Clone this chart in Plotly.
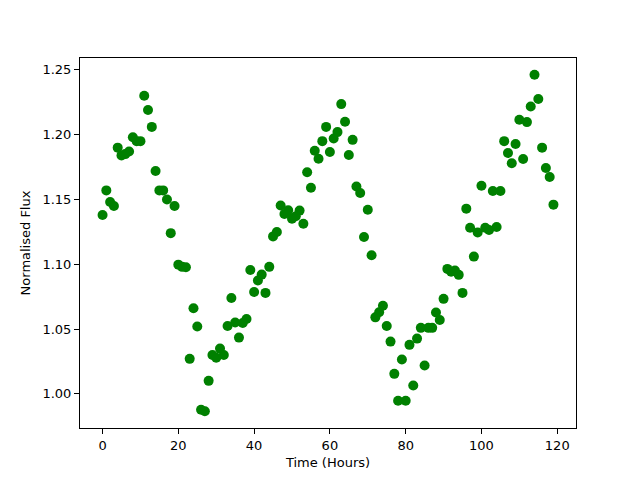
import plotly.graph_objects as go

time_hours = list(range(120))
flux = [
    1.138, 1.157, 1.148, 1.145, 1.190, 1.184, 1.185, 1.187, 1.198, 1.195,
    1.195, 1.230, 1.219, 1.206, 1.172, 1.157, 1.157, 1.150, 1.124, 1.145,
    1.0997, 1.098, 1.0977, 1.027, 1.066, 1.052, 0.9877, 0.9866, 1.010, 1.030,
    1.0278, 1.0349, 1.030, 1.0524, 1.074, 1.055, 1.0434, 1.0547, 1.0578, 1.0955,
    1.0786, 1.0875, 1.092, 1.0779, 1.098, 1.1215, 1.1249, 1.1454, 1.1388, 1.1416,
    1.1352, 1.137, 1.1414, 1.1313, 1.171, 1.159, 1.1876, 1.1814, 1.195, 1.206,
    1.1866, 1.197, 1.202, 1.2236, 1.210, 1.1843, 1.196, 1.160, 1.155, 1.121,
    1.142, 1.107, 1.059, 1.063, 1.068, 1.0524, 1.0403, 1.0154, 0.9946, 1.0265,
    0.9946, 1.0378, 1.0064, 1.0426, 1.0509, 1.0218, 1.0509, 1.0509, 1.0627, 1.057,
    1.0733, 1.0964, 1.0943, 1.0951, 1.0918, 1.0779, 1.1429, 1.1282, 1.1059, 1.1246,
    1.1606, 1.1282, 1.1264, 1.1565, 1.1288, 1.1565, 1.195, 1.1858, 1.178, 1.1928,
    1.2115, 1.1812, 1.2097, 1.2217, 1.2462, 1.2275, 1.190, 1.1743, 1.1673, 1.146,
]

x_ticks = [0, 20, 40, 60, 80, 100, 120]
y_ticks = [1.00, 1.05, 1.10, 1.15, 1.20, 1.25]

fig = go.Figure(go.Scatter(
    x=time_hours, y=flux, mode="markers",
    marker=dict(color="#008000", size=10, line=dict(width=0)),
))

axis_common = dict(
    showline=True, mirror=True, linecolor="black", linewidth=1,
    ticks="outside", ticklen=5, tickcolor="black", tickwidth=1,
    showgrid=False, zeroline=False,
    tickfont=dict(family="DejaVu Sans", size=13, color="black"),
)

xpad = (max(time_hours) - min(time_hours)) * 0.05
ypad = (max(flux) - min(flux)) * 0.05

fig.update_xaxes(
    **axis_common,
    range=[min(time_hours) - xpad, max(time_hours) + xpad],
    tickvals=x_ticks, ticktext=[str(v) for v in x_ticks],
    title=dict(text="Time (Hours)", font=dict(family="DejaVu Sans", size=13, color="black"), standoff=6),
)
fig.update_yaxes(
    **axis_common,
    range=[min(flux) - ypad, max(flux) + ypad],
    tickvals=y_ticks, ticktext=[f"{v:.2f}" for v in y_ticks],
    title=dict(text="Normalised Flux", font=dict(family="DejaVu Sans", size=13, color="black"), standoff=8),
)

fig.update_layout(
    width=632, height=472,
    margin=dict(l=72, r=64, t=50, b=52),
    paper_bgcolor="white", plot_bgcolor="white",
    showlegend=False,
)

fig.write_html("out.html")
